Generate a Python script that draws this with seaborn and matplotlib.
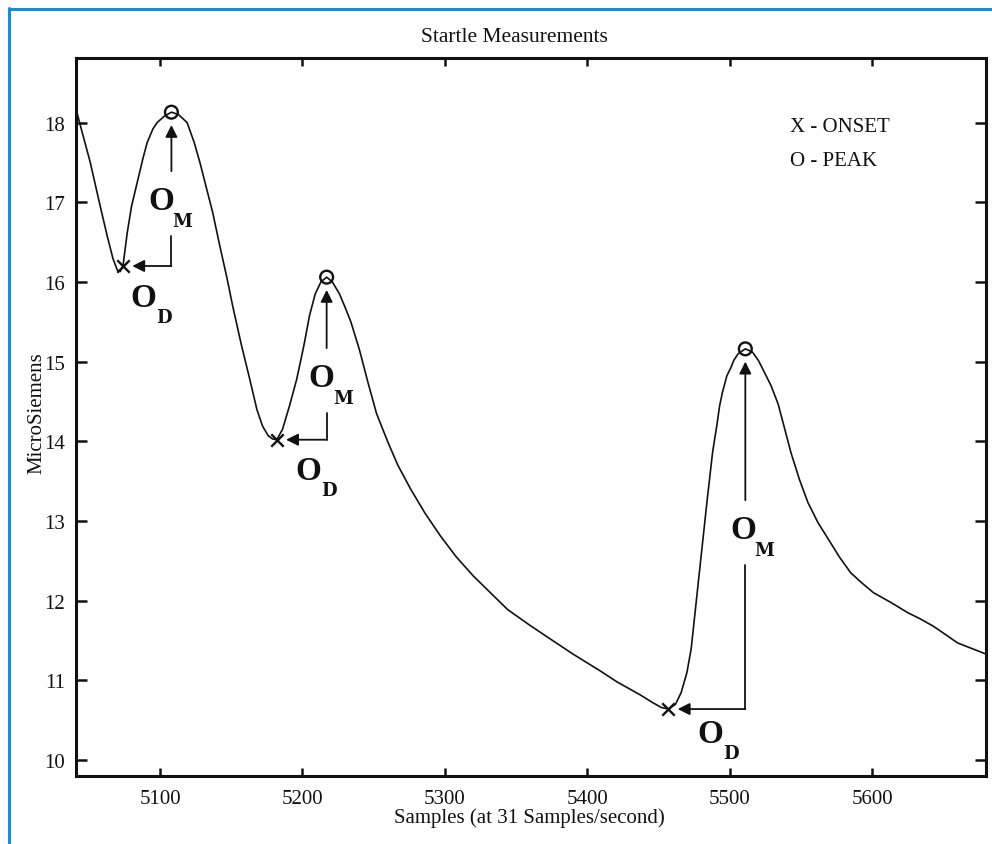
import numpy as np
import pandas as pd
import matplotlib
matplotlib.use("Agg")
import matplotlib.pyplot as plt
from matplotlib.lines import Line2D
import seaborn as sns

# ---------------- data ----------------
sample = [5041, 5045, 5051, 5058, 5063, 5067, 5070, 5072, 5074, 5077, 5080, 5084,
          5088, 5091, 5095, 5098, 5103, 5108, 5113, 5119, 5124, 5128, 5133, 5137,
          5142, 5147, 5151, 5157, 5163, 5168, 5172, 5176, 5179, 5182, 5186, 5191,
          5196, 5201, 5205, 5209, 5213, 5217, 5221, 5226, 5230, 5234, 5240, 5246,
          5252, 5260, 5267, 5276, 5286, 5297, 5308, 5320, 5332, 5344, 5359, 5374,
          5390, 5409, 5421, 5437, 5446, 5452, 5457, 5462, 5466, 5470, 5473, 5476,
          5479, 5484, 5488, 5491, 5493, 5495, 5498, 5501, 5503, 5506, 5511, 5516,
          5520, 5524, 5529, 5534, 5538, 5543, 5549, 5555, 5562, 5569, 5577, 5585,
          5593, 5601, 5613, 5625, 5634, 5643, 5652, 5660, 5670, 5680]
microsiemens = [18.17, 17.90, 17.50, 16.95, 16.57, 16.29, 16.15, 16.13, 16.20, 16.62, 16.95, 17.25,
                17.55, 17.75, 17.92, 18.00, 18.08, 18.13, 18.10, 18.00, 17.75, 17.50, 17.15, 16.87,
                16.45, 16.05, 15.70, 15.22, 14.78, 14.40, 14.19, 14.07, 14.03, 14.02, 14.15, 14.45,
                14.78, 15.20, 15.58, 15.85, 16.00, 16.06, 16.00, 15.85, 15.68, 15.50, 15.15, 14.74,
                14.35, 13.99, 13.70, 13.40, 13.10, 12.81, 12.55, 12.31, 12.10, 11.89, 11.70, 11.52,
                11.33, 11.12, 10.98, 10.82, 10.72, 10.66, 10.64, 10.70, 10.85, 11.10, 11.40, 11.90,
                12.40, 13.23, 13.86, 14.20, 14.45, 14.62, 14.82, 14.93, 15.02, 15.10, 15.16, 15.12,
                15.02, 14.88, 14.70, 14.47, 14.20, 13.86, 13.52, 13.23, 12.98, 12.78, 12.55, 12.35,
                12.22, 12.10, 11.98, 11.85, 11.77, 11.68, 11.57, 11.47, 11.40, 11.33]

onset_x = [5074, 5182, 5457]
onset_y = [16.20, 14.02, 10.64]
peak_x = [5108, 5217, 5511]
peak_y = [18.13, 16.06, 15.16]

x_ticks = [5100, 5200, 5300, 5400, 5500, 5600]
y_ticks = [10, 11, 12, 13, 14, 15, 16, 17, 18]

title_text = "Startle Measurements"
x_label = "Samples (at 31 Samples/second)"
y_label = "MicroSiemens"
key_lines = ["X - ONSET", "O - PEAK"]

# annotation label anchors (layout)
om_label_x = [5101.2, 5213.6, 5509.4]
om_label_y = [17.02, 14.80, 12.89]
od_label_x = [5088.3, 5204.2, 5486.5]
od_label_y = [15.80, 13.63, 10.33]

# ---------------- styling ----------------
sns.set_style("ticks")
plt.rcParams['font.family'] = ['Liberation Serif', 'DejaVu Serif']

W, H = 992, 845
fig = plt.figure(figsize=(W / 100, H / 100), dpi=100)
ax = fig.add_axes([76 / W, 1 - 777 / H, 910 / W, 718 / H])

df = pd.DataFrame({"x": sample, "y": microsiemens})
sns.lineplot(data=df, x="x", y="y", ax=ax, color="#111111", lw=1.2, sort=False,
             estimator=None, solid_joinstyle="round")

sns.scatterplot(x=onset_x, y=onset_y, ax=ax, marker="x", s=80, color="#111111",
                linewidth=1.7, zorder=5)
ax.scatter(peak_x, peak_y, s=85, facecolors="none", edgecolors="#111111",
           linewidths=1.7, zorder=5)

arrow_kw = dict(arrowstyle="-|>,head_length=0.6,head_width=0.3", lw=1.3,
                color="#111111", shrinkA=0, shrinkB=0, mutation_scale=12)
for i in range(3):
    xo, yo, xp, yp = onset_x[i], onset_y[i], peak_x[i], peak_y[i]
    # horizontal arrow to onset
    ax.annotate("", xy=(xo + 6.5, yo), xytext=(xp, yo), arrowprops=arrow_kw)
    # vertical line lower part
    ax.plot([xp, xp], [yo, om_label_y[i] - 0.44], color="#111111", lw=1.3)
    # vertical arrow to peak
    ax.annotate("", xy=(xp, yp - 0.16), xytext=(xp, om_label_y[i] + 0.37),
                arrowprops=arrow_kw)
    # labels
    ax.text(om_label_x[i], om_label_y[i], "O", fontsize=24, fontweight="bold",
            ha="center", va="center", color="#111111")
    ax.annotate("M", xy=(om_label_x[i], om_label_y[i]), xytext=(21, -20),
                textcoords="offset pixels", fontsize=13, fontweight="bold",
                ha="center", va="center", family=["DejaVu Serif"], color="#111111")
    ax.text(od_label_x[i], od_label_y[i], "O", fontsize=24, fontweight="bold",
            ha="center", va="center", color="#111111")
    ax.annotate("D", xy=(od_label_x[i], od_label_y[i]), xytext=(21, -19),
                textcoords="offset pixels", fontsize=13, fontweight="bold",
                ha="center", va="center", family=["DejaVu Serif"], color="#111111")

ax.set_xlim(5041, 5680)
ax.set_ylim(9.8, 18.81)
ax.set_xticks(x_ticks)
ax.set_yticks(y_ticks)
ax.tick_params(axis="both", which="major", direction="in", top=True, right=True,
               width=1.8, labelsize=15, colors="#111111")
ax.tick_params(axis="x", length=6, pad=9)
ax.tick_params(axis="y", length=8, pad=8)
for sp in ax.spines.values():
    sp.set_linewidth(2.2)
    sp.set_color("#111111")

ax.set_xlabel(x_label, fontsize=15, color="#111111")
ax.set_ylabel(y_label, fontsize=15, color="#111111")
ax.xaxis.set_label_coords((529 - 76) / 910, (777 - 808) / 718)
ax.yaxis.set_label_coords((46 - 76) / 910, (777 - 413) / 718)

ax.text(0.785, 0.905, key_lines[0], transform=ax.transAxes, fontsize=15,
        ha="left", va="center", color="#111111")
ax.text(0.785, 0.857, key_lines[1], transform=ax.transAxes, fontsize=15,
        ha="left", va="center", color="#111111")

fig.text(514 / W, 1 - 38 / H, title_text, fontsize=15.5, ha="center", va="center",
         color="#111111")

# blue frame on the page (top and left edges)
blue = "#1e8ccc"
fig.add_artist(Line2D([9 / W, 9 / W], [0, 1 - 9 / H], color=blue, lw=2.2,
                      transform=fig.transFigure))
fig.add_artist(Line2D([9 / W, 1], [1 - 10 / H, 1 - 10 / H], color=blue, lw=2.2,
                      transform=fig.transFigure))

fig.savefig("out.png", dpi=100, facecolor="white")
